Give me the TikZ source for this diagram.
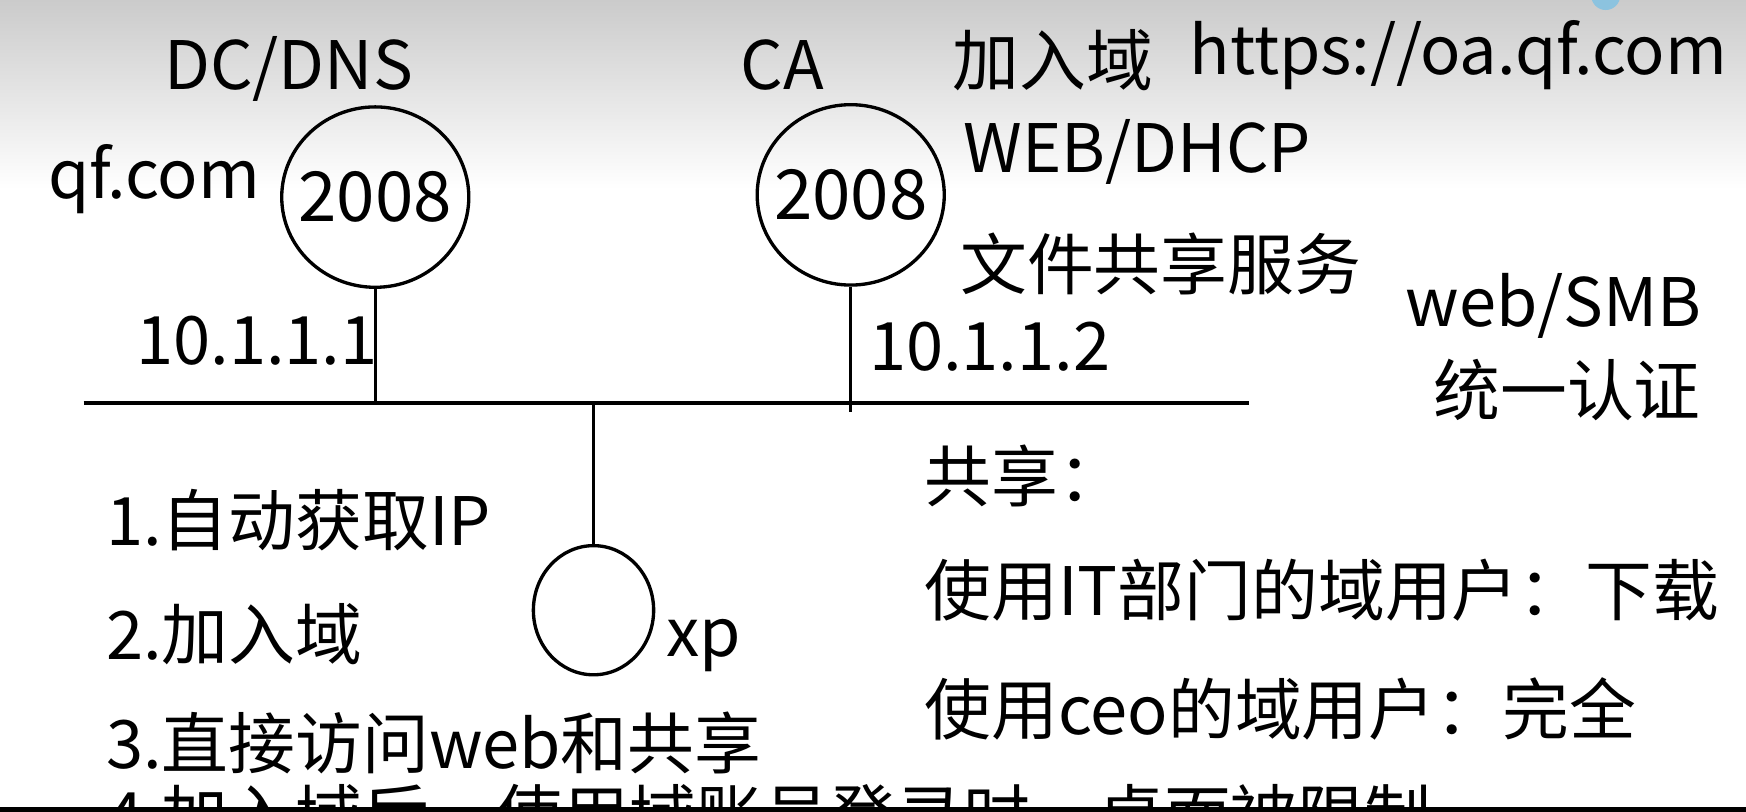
\documentclass[tikz,border=0pt]{standalone}
\usepackage{fontspec}
\setmainfont{Noto Sans CJK SC}
\usetikzlibrary{positioning,shapes.geometric}
\definecolor{topgray}{HTML}{CBCBCB}
\definecolor{dotblue}{HTML}{8CC3DF}

\begin{document}
\begin{tikzpicture}[x=0.5pt,y=-0.5pt,
  txt/.style={inner sep=0pt,anchor=base west,font=\fontsize{30pt}{36pt}\selectfont},
  host/.style={ellipse,draw,line width=1.5pt,inner sep=0pt},
  os/.style={inner sep=0pt,font=\fontsize{31pt}{36pt}\selectfont},
  wire/.style={line width=1.3pt}]
\useasboundingbox (0,0) rectangle (1568,729);
\clip (0,0) rectangle (1568,729);
\shade[top color=topgray,bottom color=white] (0,0) rectangle (1568,170);
\fill[dotblue] (1442,-4) circle[radius=6.5pt];

% servers and client
\node[host,minimum width=84pt,minimum height=81pt] (dc) at (337,177) {};
\node[host,minimum width=84pt,minimum height=81pt] (ca) at (764,175) {};
\node[host,minimum width=54pt,minimum height=58pt] (xp) at (533,548) {};
\node[os] (dcOs) at (dc.center) {2008};
\node[os] (caOs) at (ca.center) {2008};

% bus
\coordinate (busL) at (75,362);
\coordinate (busR) at (1122,362);
\coordinate (caEnd) at (764,370);
\draw[line width=2pt] (busL) -- (busR);
\draw[wire] (dc.south) -- (dc.south |- busL);
\draw[wire] (ca.south) -- (caEnd);
\draw[wire] (xp.north) -- (xp.north |- busL);

% labels
\node[txt] (dcRole) at (147,80) {DC/DNS};
\node[txt] (caRole) at (665,80) {CA};
\node[txt] (joinDomain) at (855,77) {加入域};
\node[txt] (oaUrl) at (1068,67) {https://oa.qf.com};
\node[txt] (domainName) at (43,178) {qf.com};
\node[txt] (webDhcp) at (865,155) {WEB/DHCP};
\node[txt] (fileShare) at (862,260) {文件共享服务};
\node[txt] (dcIp) at (122,327) {10.1.1.1};
\node[txt] (caIp) at (780,333) {10.1.1.2};
\node[txt] (webSmb) at (1262,293) {web/SMB};
\node[txt] (unifiedAuth) at (1287,373) {统一认证};
\node[txt] (xpName) at (598,590) {xp};

\node[txt] (step1) at (95,490) {1.自动获取IP};
\node[txt] (step2) at (95,592) {2.加入域};
\node[txt] (step3) at (95,690) {3.直接访问web和共享};
\node[txt] (step4) at (95,755) {4.加入域后，使用域账号登录时，桌面被限制};

\node[txt] (shareHead) at (830,450) {共享：};
\node[txt] (shareIT) at (830,553) {使用IT部门的域用户：下载};
\node[txt] (shareCeo) at (830,660) {使用ceo的域用户：完全};

\fill[black] (0,725) rectangle (1568,729);
\end{tikzpicture}
\end{document}
